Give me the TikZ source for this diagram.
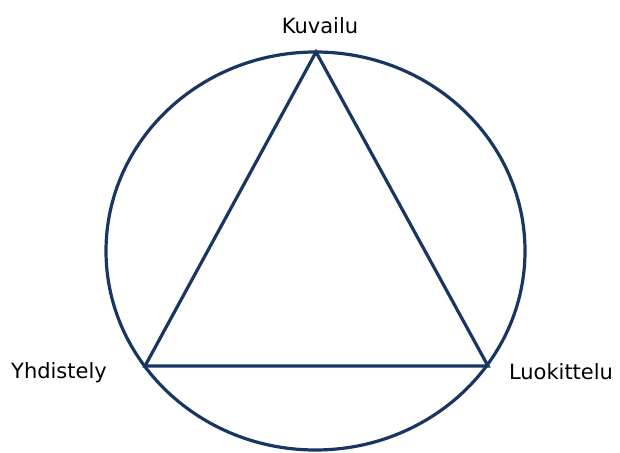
\documentclass[tikz,border=0pt]{standalone}
\usepackage{fontspec}
\setmainfont{DejaVu Sans}
\usepackage{xcolor}
\usetikzlibrary{positioning, calc}

\definecolor{navy}{RGB}{24,54,98}

\begin{document}
\begin{tikzpicture}[x=1pt, y=1pt,
    ring/.style={line width=3.2pt, navy},
    edge/.style={line width=3.2pt, navy, line join=miter},
    corner/.style={font=\fontsize{21}{24}\selectfont, text=black}]
    \useasboundingbox (0,0) rectangle (620,452);
    % =========================================================
    % OUTER RING
    % =========================================================
    \draw[ring] (315.5,201) ellipse [x radius=209.5, y radius=199];

    % =========================================================
    % TRIANGLE CORNERS
    % =========================================================
    \coordinate (kuv) at (316,400);
    \coordinate (yhd) at (145,86);
    \coordinate (luo) at (488,86);
    \draw[edge] (kuv) -- (yhd) -- (luo) -- cycle;

    % Corner labels
    \node[corner] (kuvlabel) at (320,426) {Kuvailu};
    \node[corner] (yhdlabel) at (59,79) {Yhdistely};
    \node[corner] (luolabel) at (561,80) {Luokittelu};
\end{tikzpicture}
\end{document}
